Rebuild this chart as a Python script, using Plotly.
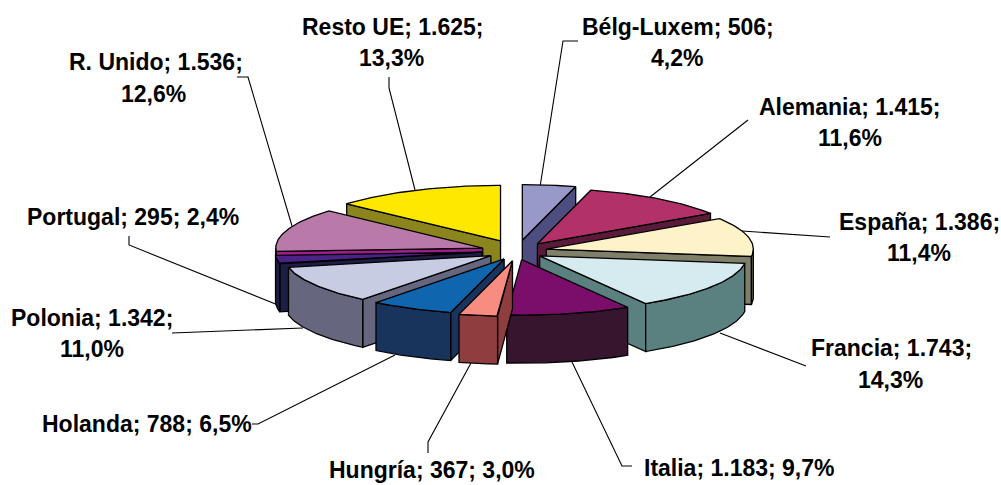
import numpy as np
import plotly.graph_objects as go

categories = ["Bélg-Luxem", "Alemania", "España", "Francia", "Italia", "Hungría",
              "Holanda", "Polonia", "Portugal", "R. Unido", "Resto UE"]
values = [506, 1415, 1386, 1743, 1183, 367, 788, 1342, 295, 1536, 1625]
value_labels = ["506", "1.415", "1.386", "1.743", "1.183", "367", "788", "1.342", "295", "1.536", "1.625"]
pct_labels = ["4,2%", "11,6%", "11,4%", "14,3%", "9,7%", "3,0%", "6,5%", "11,0%", "2,4%", "12,6%", "13,3%"]

top_colors = ["#9999C9", "#B23168", "#FEF3C8", "#D6EBEF", "#7A0E6A", "#F98C80",
              "#0F66AE", "#C7CCE3", "#4B2285", "#B97AA9", "#FFE800"]
wall_colors = ["#4D4D80", "#5A1A3A", "#80806A", "#5A8080", "#38152F", "#8F3E40",
               "#18345C", "#66667F", "#1E1E45", "#A01C8C", "#8C841C"]

# label text layout: one entry per text line (line text built from the data above)
label_pos = {
    "Bélg-Luxem": [(678, 27), (677, 58)],
    "Alemania": [(850, 107), (850, 138)],
    "España": [(919, 222), (919, 253)],
    "Francia": [(891, 348), (890, 380)],
    "Italia": [(739, 468)],
    "Hungría": [(432, 470)],
    "Holanda": [(147, 424)],
    "Polonia": [(92, 318), (92, 349)],
    "Portugal": [(133, 217)],
    "R. Unido": [(156, 62), (153, 94)],
    "Resto UE": [(393, 27), (391, 58)],
}
leaders = [
    [(389, 77), (389, 88), (415, 190)],
    [(578, 41), (563, 41), (540, 187)],
    [(237, 77), (248, 77), (292, 226)],
    [(748, 120), (650, 197)],
    [(129, 236), (129, 245), (278, 305)],
    [(830, 237), (742, 231)],
    [(172, 333), (303, 328)],
    [(806, 366), (720, 333)],
    [(252, 424), (258, 424), (395, 355)],
    [(428, 453), (428, 442), (471, 363)],
    [(632, 466), (622, 466), (572, 362)],
]

CX, CY, RX, RY, H, PULL = 514, 251, 207, 55.5, 48, 0.16
# small per-slice placement corrections in pixels
nudge_x = [4, 4, 0, -2, 0, 4, 5, 5, 1, 0, 0]
nudge_y = [-2, 0, 0, 0, 0, 1, 0, 0, 0, 0, -2]

fig = go.Figure()


def poly(xs, ys, color, name, lw=1.3):
    fig.add_trace(go.Scatter(x=xs, y=ys, mode="lines", fill="toself", fillcolor=color,
                             line=dict(color="#000000", width=lw), name=name,
                             hoverinfo="name", showlegend=False))


for pts in leaders:
    fig.add_trace(go.Scatter(x=[p[0] for p in pts], y=[p[1] for p in pts], mode="lines",
                             line=dict(color="#000000", width=1.1), hoverinfo="skip", showlegend=False))

fractions = np.array(values, dtype=float) / sum(values)
edges = np.concatenate([[0], np.cumsum(fractions)]) * 2 * np.pi
mids = (edges[:-1] + edges[1:]) / 2
order = np.argsort(-np.cos(mids))

for i in order:
    a, b, m = edges[i], edges[i + 1], mids[i]
    ax = CX + PULL * RX * np.sin(m) + nudge_x[i]
    ay = CY - PULL * RY * np.cos(m) + nudge_y[i]
    t = np.linspace(a, b, 60)
    ox = ax + RX * np.sin(t)
    oy = ay - RY * np.cos(t)
    name = categories[i]
    # radial faces
    if np.sin(a) < 0:
        e = (ax + RX * np.sin(a), ay - RY * np.cos(a))
        poly([ax, e[0], e[0], ax, ax], [ay, e[1], e[1] + H, ay + H, ay], wall_colors[i], name)
    if np.sin(b) > 0:
        e = (ax + RX * np.sin(b), ay - RY * np.cos(b))
        poly([ax, e[0], e[0], ax, ax], [ay, e[1], e[1] + H, ay + H, ay], wall_colors[i], name)
    # outer wall
    lo, hi = max(a, np.pi / 2), min(b, 3 * np.pi / 2)
    if hi > lo:
        w = np.linspace(lo, hi, 60)
        wx = ax + RX * np.sin(w)
        wy = ay - RY * np.cos(w)
        poly(list(wx) + list(wx[::-1]) + [wx[0]], list(wy) + list(wy[::-1] + H) + [wy[0]],
             wall_colors[i] if name != "R. Unido" else "#1E1E45", name)
    # top face
    poly([ax] + list(ox) + [ax], [ay] + list(oy) + [ay], top_colors[i], name)

annotations = []
for i, name in enumerate(categories):
    pos = label_pos[name]
    if len(pos) == 2:
        lines = [f"{name}; {value_labels[i]};", pct_labels[i]]
    else:
        lines = [f"{name}; {value_labels[i]}; {pct_labels[i]}"]
    for (x, y), txt in zip(pos, lines):
        annotations.append(dict(x=x, y=y, text=f"<b>{txt}</b>", showarrow=False,
                                xanchor="center", yanchor="middle", xref="x", yref="y",
                                font=dict(family="Liberation Sans", size=23, color="#000000")))

fig.update_layout(
    width=1001, height=485, margin=dict(l=0, r=0, t=0, b=0),
    paper_bgcolor="#FFFFFF", plot_bgcolor="#FFFFFF",
    xaxis=dict(range=[0, 1001], visible=False, fixedrange=True),
    yaxis=dict(range=[485, 0], visible=False, fixedrange=True),
    annotations=annotations, showlegend=False,
)
fig.write_html("out.html", config={"displayModeBar": False},
               post_script="document.body.style.margin='0';document.body.style.overflow='hidden';")
